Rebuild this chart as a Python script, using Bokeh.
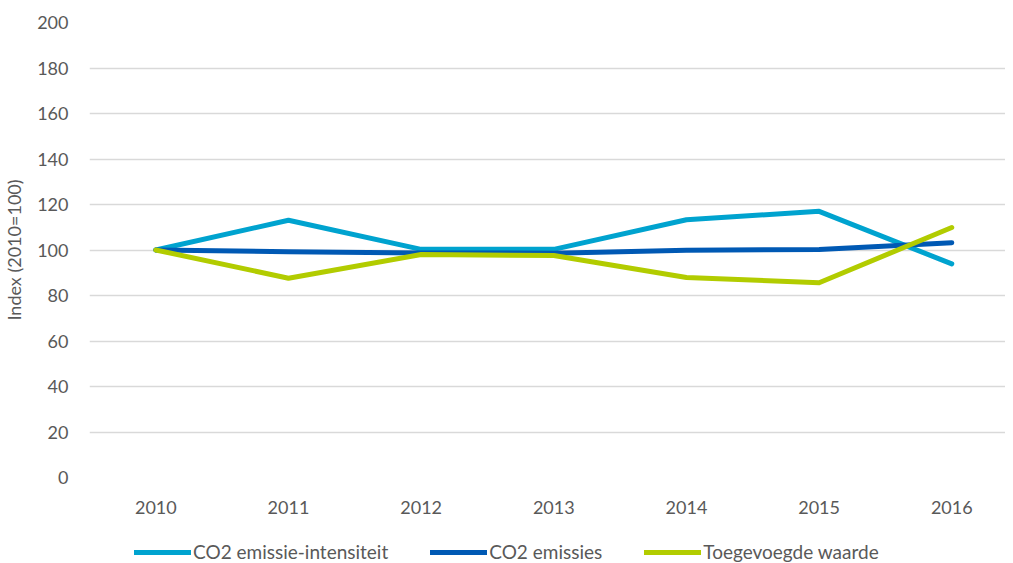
from bokeh.plotting import figure
from bokeh.models import Range1d, FixedTicker, Legend, LegendItem
from bokeh.layouts import column
from bokeh.embed import file_html
from bokeh.resources import INLINE

years = ["2010", "2011", "2012", "2013", "2014", "2015", "2016"]
intensiteit = [100, 113.1, 100.3, 100.3, 113.3, 117.0, 93.9]
emissies = [100, 99.2, 98.7, 98.6, 99.9, 100.2, 103.2]
toegevoegd = [100, 87.6, 98.0, 97.6, 87.9, 85.6, 109.9]

series_names = ["CO2 emissie-intensiteit", "CO2 emissies", "Toegevoegde waarde"]
colors = ["#00A3CF", "#0059B4", "#B2CC00"]

FONT = "Lato"
TXT = "#595959"

x = list(range(len(years)))
series = [intensiteit, emissies, toegevoegd]

p = figure(width=1005, height=522, output_backend="svg", toolbar_location=None,
           x_range=Range1d(-0.5, 6.405), y_range=Range1d(0, 200),
           min_border_left=88, min_border_right=0, min_border_top=22,
           min_border_bottom=45)
p.outline_line_color = None

for ys, c in zip(series, colors):
    p.line(x, ys, line_color=c, line_width=5, line_join="round", line_cap="round")

# axes
p.xaxis.ticker = FixedTicker(ticks=x)
p.xaxis.major_label_overrides = {i: y for i, y in enumerate(years)}
p.yaxis.ticker = FixedTicker(ticks=list(range(0, 201, 20)))
for ax in (p.xaxis[0], p.yaxis[0]):
    ax.axis_line_color = None
    ax.major_tick_line_color = None
    ax.minor_tick_line_color = None
    ax.major_label_text_color = TXT
    ax.major_label_text_font = FONT
    ax.major_label_text_font_size = "18px"
p.xaxis.major_label_standoff = 17
p.yaxis.major_label_standoff = 15
p.yaxis.axis_label = "Index (2010=100)"
p.yaxis.axis_label_text_font = FONT
p.yaxis.axis_label_text_font_size = "18px"
p.yaxis.axis_label_text_font_style = "normal"
p.yaxis.axis_label_text_color = TXT
p.yaxis.axis_label_standoff = 9

p.xgrid.grid_line_color = None
p.ygrid.grid_line_color = "#D9D9D9"
p.ygrid.grid_line_width = 1.5

# legend strip below the chart (series drawn out of its visible range; only the legend shows)
lf = figure(width=1005, height=41, output_backend="svg", toolbar_location=None,
            x_range=Range1d(0, 1), y_range=Range1d(-2, -1),
            x_axis_type=None, y_axis_type=None,
            min_border_left=0, min_border_right=0, min_border_top=0, min_border_bottom=0)
lf.outline_line_color = None
lf.xgrid.grid_line_color = None
lf.ygrid.grid_line_color = None
leg_renderers = [lf.line(x, ys, line_color=c, line_width=5, line_cap="round")
                 for ys, c in zip(series, colors)]

legend = Legend(items=[LegendItem(label=n, renderers=[r]) for n, r in zip(series_names, leg_renderers)],
                orientation="horizontal", location=(45, 0))
legend.glyph_width = 57
legend.glyph_height = 18
legend.label_standoff = 2
legend.spacing = 42
legend.padding = 0
legend.margin = 0
legend.border_line_alpha = 0
legend.background_fill_alpha = 0
legend.label_text_font = FONT
legend.label_text_font_size = "19px"
legend.label_text_color = TXT
lf.add_layout(legend, "center")

layout = column(p, lf, spacing=0)
open("out.html", "w").write(file_html(layout, INLINE))
